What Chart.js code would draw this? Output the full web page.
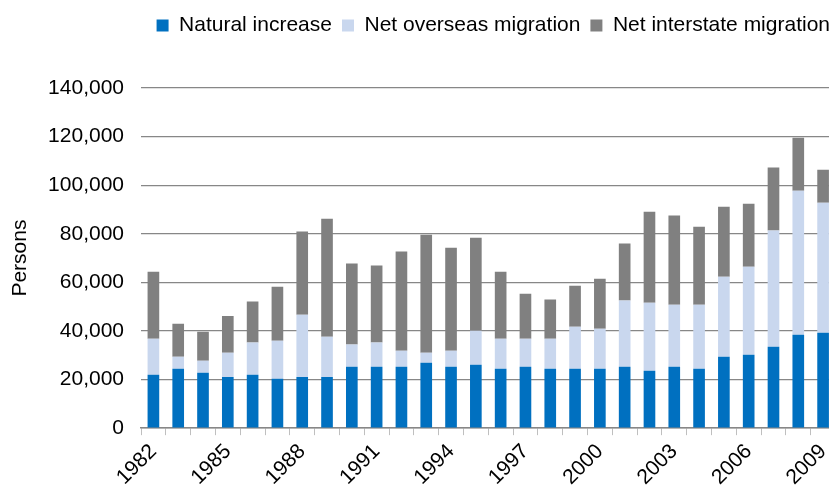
<!DOCTYPE html>
<html>
<head>
<meta charset="utf-8">
<script src="https://cdn.jsdelivr.net/npm/chart.js@4/dist/chart.umd.min.js"></script>
<style>
  html, body { margin: 0; padding: 0; background: #fff; overflow: hidden; }
  #wrap { width: 845px; height: 496px; }
</style>
</head>
<body>
<div id="wrap"><canvas id="chart" width="845" height="496"></canvas></div>
<script>
// financial years, 1982 to 2009
const years = ["1982", "1983", "1984", "1985", "1986", "1987", "1988", "1989", "1990", "1991",
  "1992", "1993", "1994", "1995", "1996", "1997", "1998", "1999", "2000", "2001",
  "2002", "2003", "2004", "2005", "2006", "2007", "2008", "2009"];

const naturalIncrease = [22000, 24400, 22800, 21100, 22000, 20300, 21100, 21100, 25300, 25300,
  25300, 26900, 25300, 26100, 24400, 25300, 24400, 24400, 24400, 25300,
  23600, 25300, 24400, 29400, 30200, 33500, 38400, 39300];

const netOverseas = [14800, 5000, 4900, 9900, 13200, 15700, 25600, 16500, 9100, 9900,
  6600, 4100, 6600, 14000, 12400, 11500, 12400, 17300, 16500, 27200,
  28000, 25500, 26400, 32900, 36200, 47800, 59300, 53500];

const netInterstate = [27600, 13600, 12000, 15200, 16900, 22200, 34200, 48600, 33400, 31700,
  40800, 48600, 42400, 38300, 27600, 18500, 16100, 16900, 20600, 23500,
  37500, 36700, 32100, 28800, 26000, 26000, 21800, 13600];

const FONT = "'Liberation Sans', Arial, sans-serif";
const GRID = "#878787";

// extra room under the legend
const legendMargin = {
  id: "legendMargin",
  beforeInit(chart) {
    const fit = chart.legend.fit;
    chart.legend.fit = function () {
      fit.bind(chart.legend)();
      this.height += 42;
    };
  },
};

new Chart(document.getElementById("chart"), {
  type: "bar",
  data: {
    labels: years,
    datasets: [
      { label: "Natural increase", data: naturalIncrease, backgroundColor: "#0070C0" },
      { label: "Net overseas migration", data: netOverseas, backgroundColor: "#C9D7EE" },
      { label: "Net interstate migration", data: netInterstate, backgroundColor: "#808080" },
    ],
  },
  options: {
    responsive: false,
    animation: false,
    layout: { padding: { top: 5, right: 5, bottom: 2, left: 0 } },
    datasets: { bar: { categoryPercentage: 1, barPercentage: 0.47 } },
    plugins: {
      tooltip: { enabled: false },
      legend: {
        position: "top",
        align: "end",
        labels: {
          color: "#000",
          font: { family: FONT, size: 21 },
          boxWidth: 12,
          boxHeight: 12,
          padding: 10,
        },
      },
    },
    scales: {
      x: {
        stacked: true,
        grid: { drawOnChartArea: false, color: "#BFBFBF", tickLength: 7 },
        border: { color: GRID, width: 1.5 },
        ticks: {
          autoSkip: false,
          minRotation: 45,
          maxRotation: 45,
          padding: 4,
          color: "#000",
          font: { family: FONT, size: 21 },
          callback: (v, i) => (i % 3 === 0 ? years[i] : ""),
        },
      },
      y: {
        stacked: true,
        min: 0,
        max: 140000,
        afterFit(scale) { scale.width = 141; },
        grid: { color: GRID, lineWidth: 1.3, drawTicks: false },
        border: { display: false },
        ticks: {
          stepSize: 20000,
          padding: 17,
          color: "#000",
          font: { family: FONT, size: 21 },
          callback: v => v.toLocaleString("en-US"),
        },
        title: {
          display: true,
          text: "Persons",
          color: "#000",
          font: { family: FONT, size: 21 },
          padding: { top: 8, bottom: 8 },
        },
      },
    },
  },
  plugins: [legendMargin],
});
</script>
</body>
</html>
